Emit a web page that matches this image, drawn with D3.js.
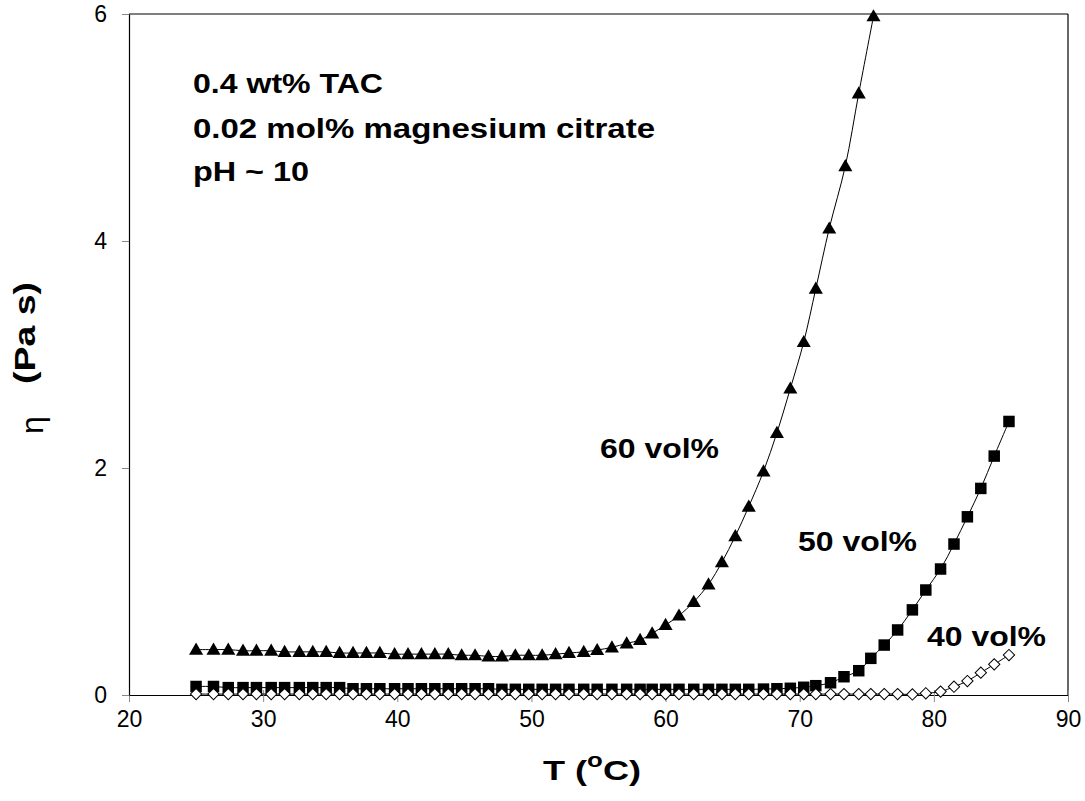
<!DOCTYPE html>
<html>
<head>
<meta charset="utf-8">
<script src="https://cdn.jsdelivr.net/npm/d3@7"></script>
<style>
  html, body { margin: 0; padding: 0; background: #fff; }
  svg { display: block; }
  text { font-family: "Liberation Sans", Arial, sans-serif; }
</style>
</head>
<body>
<svg id="chart" width="1085" height="801"></svg>
<script>
// ---- data ----
const xTicks = [20, 30, 40, 50, 60, 70, 80, 90];
const yTicks = [0, 2, 4, 6];

const t60 = [25.0, 26.3, 27.4, 28.5, 29.5, 30.6, 31.6, 32.7, 33.7, 34.7,
             35.7, 36.7, 37.7, 38.7, 39.8, 40.8, 41.8, 42.8, 43.8, 44.8,
             45.8, 46.8, 47.8, 48.8, 49.8, 50.8, 51.8, 52.8, 53.9, 54.9,
             56.0, 57.1, 58.1, 59.0, 60.0, 61.0, 62.1, 63.2, 64.2, 65.2,
             66.2, 67.3, 68.3, 69.3, 70.3, 71.2, 72.2, 73.4, 74.4, 75.5];
const eta60 = [0.40, 0.40, 0.40, 0.39, 0.39, 0.39, 0.38, 0.38, 0.38, 0.38,
               0.37, 0.37, 0.37, 0.37, 0.36, 0.36, 0.36, 0.36, 0.36, 0.35,
               0.35, 0.34, 0.34, 0.35, 0.35, 0.35, 0.36, 0.37, 0.38, 0.396,
               0.42, 0.455, 0.485, 0.543, 0.617, 0.70, 0.82, 0.975, 1.17, 1.40,
               1.66, 1.97, 2.31, 2.70, 3.11, 3.58, 4.11, 4.66, 5.30, 5.98];

const t50 = [25.0, 26.3, 27.4, 28.5, 29.5, 30.6, 31.6, 32.7, 33.7, 34.7,
             35.7, 36.7, 37.7, 38.7, 39.8, 40.8, 41.8, 42.8, 43.8, 44.8,
             45.8, 46.8, 47.8, 48.8, 49.8, 50.8, 51.8, 52.8, 53.9, 54.9,
             56.0, 57.1, 58.1, 59.0, 60.0, 61.0, 62.1, 63.2, 64.2, 65.2,
             66.2, 67.3, 68.3, 69.3, 70.3, 71.2, 72.3, 73.3, 74.4, 75.3,
             76.3, 77.3, 78.4, 79.4, 80.5, 81.5, 82.5, 83.5, 84.5, 85.6];
const eta50 = [0.075, 0.075, 0.065, 0.065, 0.065, 0.065, 0.065, 0.065, 0.065, 0.065,
               0.065, 0.055, 0.055, 0.055, 0.055, 0.055, 0.055, 0.055, 0.055, 0.055,
               0.055, 0.055, 0.05, 0.05, 0.05, 0.05, 0.05, 0.05, 0.05, 0.05,
               0.05, 0.05, 0.05, 0.05, 0.05, 0.05, 0.05, 0.05, 0.05, 0.05,
               0.05, 0.052, 0.055, 0.059, 0.068, 0.082, 0.108, 0.161, 0.214, 0.323,
               0.44, 0.573, 0.75, 0.925, 1.11, 1.33, 1.57, 1.82, 2.105, 2.41];

const t40 = t50;
const eta40 = [0.008, 0.008, 0.008, 0.008, 0.008, 0.008, 0.008, 0.008, 0.008, 0.008,
               0.008, 0.008, 0.008, 0.008, 0.008, 0.008, 0.008, 0.008, 0.008, 0.008,
               0.008, 0.008, 0.008, 0.008, 0.008, 0.008, 0.008, 0.008, 0.008, 0.008,
               0.008, 0.008, 0.008, 0.008, 0.008, 0.008, 0.008, 0.008, 0.008, 0.008,
               0.008, 0.008, 0.008, 0.008, 0.008, 0.008, 0.008, 0.008, 0.008, 0.008,
               0.008, 0.008, 0.005, 0.015, 0.03, 0.073, 0.123, 0.197, 0.27, 0.352];

const noteLines = ["0.4 wt% TAC", "0.02 mol% magnesium citrate", "pH ~ 10"];
const seriesLabels = ["60 vol%", "50 vol%", "40 vol%"];

// ---- drawing ----
const svg = d3.select("#chart");
const x = d3.scaleLinear().domain([20, 90]).range([129, 1068]);
const y = d3.scaleLinear().domain([0, 6]).range([695, 14]);

// frame (top & right)
svg.append("line").attr("x1", x(20)).attr("x2", x(90)).attr("y1", y(6)).attr("y2", y(6))
  .attr("stroke", "#000").attr("stroke-width", 1.2);
svg.append("line").attr("x1", x(90)).attr("x2", x(90)).attr("y1", y(6)).attr("y2", y(0))
  .attr("stroke", "#000").attr("stroke-width", 1.2);

// x axis
const xAxis = svg.append("g").attr("transform", `translate(0,${y(0)})`)
  .call(d3.axisBottom(x).tickValues(xTicks).tickFormat(d3.format("d"))
    .tickSize(7).tickSizeOuter(0).tickPadding(9));
xAxis.select(".domain").attr("stroke", "#000").attr("stroke-width", 1.2);
xAxis.selectAll(".tick line").attr("stroke", "#888").attr("y1", -5);
xAxis.selectAll(".tick text").attr("font-size", 23).attr("fill", "#000")
  .attr("font-family", "Liberation Sans, Arial, sans-serif");

// y axis
const yAxis = svg.append("g").attr("transform", `translate(${x(20)},0)`)
  .call(d3.axisLeft(y).tickValues(yTicks).tickFormat(d3.format("d"))
    .tickSize(7).tickSizeOuter(0).tickPadding(15));
yAxis.select(".domain").attr("stroke", "#000").attr("stroke-width", 1.2);
yAxis.selectAll(".tick line").attr("stroke", "#888");
yAxis.selectAll(".tick text").attr("font-size", 23).attr("fill", "#000")
  .attr("font-family", "Liberation Sans, Arial, sans-serif");

// series
const series = [
  { t: t60, v: eta60, shape: "tri" },
  { t: t50, v: eta50, shape: "sq" },
  { t: t40, v: eta40, shape: "dia" }
];
const line = d3.line().x(d => x(d[0])).y(d => y(d[1])).curve(d3.curveCatmullRom.alpha(0.5));

series.forEach(s => {
  const pts = s.t.map((t, i) => [t, s.v[i]]);
  svg.append("path").datum(pts).attr("d", line)
    .attr("fill", "none").attr("stroke", "#000").attr("stroke-width", 1);
});

const sym = {
  tri: d3.symbol().type(d3.symbolTriangle).size(86),
  sq: d3.symbol().type(d3.symbolSquare).size(132),
  dia: d3.symbol().type(d3.symbolSquare).size(64)
};
series.forEach(s => {
  const g = svg.append("g");
  s.t.forEach((t, i) => {
    const p = g.append("path").attr("d", sym[s.shape]());
    if (s.shape === "dia") {
      p.attr("transform", `translate(${x(t)},${y(s.v[i])}) rotate(45)`)
        .attr("fill", "#fff").attr("stroke", "#000").attr("stroke-width", 1);
    } else if (s.shape === "tri") {
      p.attr("transform", `translate(${x(t)},${y(s.v[i]) + 1})`).attr("fill", "#000");
    } else {
      p.attr("transform", `translate(${x(t)},${y(s.v[i])})`).attr("fill", "#000");
    }
  });
});

// annotation text
const noteY = [93, 138, 181];
const noteW = [190, 462, 116];
noteLines.forEach((txt, i) => {
  svg.append("text").attr("x", 193).attr("y", noteY[i])
    .attr("font-size", 27.5).attr("font-weight", "bold")
    .attr("textLength", noteW[i]).attr("lengthAdjust", "spacingAndGlyphs")
    .text(txt);
});

const labelPos = [[600, 458], [798, 551], [927, 646]];
seriesLabels.forEach((txt, i) => {
  svg.append("text").attr("x", labelPos[i][0]).attr("y", labelPos[i][1])
    .attr("font-size", 27.5).attr("font-weight", "bold")
    .attr("textLength", 119).attr("lengthAdjust", "spacingAndGlyphs")
    .text(txt);
});

// x axis title
const xt = svg.append("text").attr("x", 543).attr("y", 780)
  .attr("font-size", 28).attr("font-weight", "bold")
  .attr("textLength", 98).attr("lengthAdjust", "spacingAndGlyphs");
xt.append("tspan").text("T (");
xt.append("tspan").attr("dy", -13).attr("font-size", 20).text("o");
xt.append("tspan").attr("dy", 13).text("C)");

// y axis title
svg.append("text").attr("transform", "translate(43,434) rotate(-90)")
  .attr("font-size", 32).attr("font-family", "Liberation Serif, serif")
  .text("η");
svg.append("text").attr("transform", "translate(35,384) rotate(-90)")
  .attr("font-size", 29).attr("font-weight", "bold")
  .attr("textLength", 102).attr("lengthAdjust", "spacingAndGlyphs")
  .text("(Pa s)");
</script>
</body>
</html>
